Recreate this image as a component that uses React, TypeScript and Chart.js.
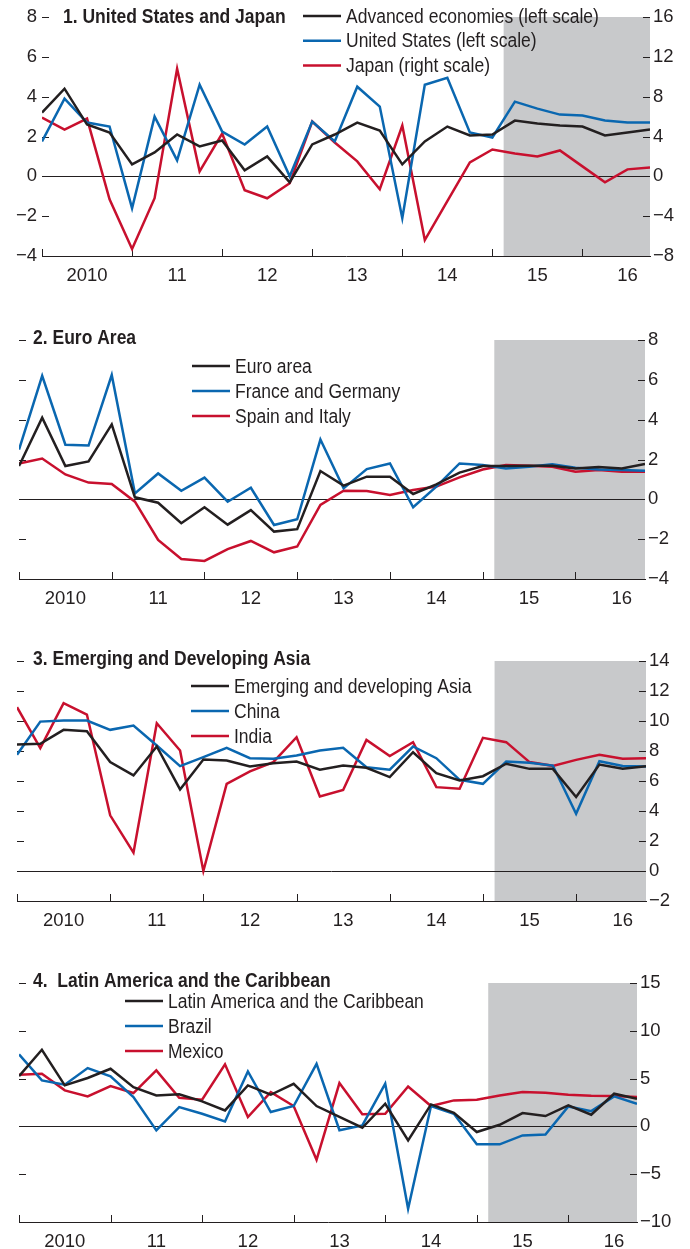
import React, { useEffect, useRef } from 'react';
import { Chart, registerables } from 'chart.js';

Chart.register(...registerables);

// ---------- data ----------
const yearLabels = ['2010', '11', '12', '13', '14', '15', '16'];
const forecastStart = 20.5; // quarter index where projections begin (shaded)

// Panel 1: United States and Japan (Japan on right scale)
const advancedEconomies = [3.2, 4.4, 2.6, 2.2, 0.6, 1.2, 2.1, 1.5, 1.8, 0.3, 1.0, -0.3, 1.6, 2.1, 2.7, 2.3, 0.6, 1.75, 2.5, 2.05, 2.1, 2.8, 2.65, 2.55, 2.5, 2.05, 2.2, 2.35];
const unitedStates = [1.75, 3.9, 2.7, 2.5, -1.6, 3.0, 0.8, 4.6, 2.25, 1.6, 2.5, 0.0, 2.75, 1.75, 4.5, 3.5, -2.1, 4.6, 4.95, 2.2, 1.95, 3.75, 3.4, 3.1, 3.05, 2.8, 2.7, 2.7];
const japan = [5.9, 4.7, 5.8, -2.3, -7.3, -2.2, 10.8, 0.5, 4.3, -1.4, -2.2, -0.7, 5.5, 3.4, 1.5, -1.3, 5.1, -6.4, -2.5, 1.4, 2.7, 2.3, 2.0, 2.6, 1.0, -0.6, 0.7, 0.9];

// Panel 2: Euro Area
const euroArea = [1.67, 4.1, 1.67, 1.9, 3.76, 0.1, -0.17, -1.2, -0.4, -1.27, -0.54, -1.62, -1.5, 1.42, 0.69, 1.14, 1.14, 0.27, 0.75, 1.34, 1.67, 1.67, 1.69, 1.69, 1.55, 1.62, 1.55, 1.77];
const franceGermany = [2.5, 6.2, 2.74, 2.7, 6.24, 0.3, 1.3, 0.43, 1.09, -0.12, 0.58, -1.29, -1.0, 3.0, 0.55, 1.52, 1.8, -0.4, 0.64, 1.8, 1.72, 1.55, 1.64, 1.76, 1.59, 1.5, 1.47, 1.44];
const spainItaly = [1.8, 2.05, 1.25, 0.84, 0.77, -0.12, -2.04, -3.0, -3.09, -2.5, -2.09, -2.66, -2.37, -0.28, 0.43, 0.42, 0.22, 0.47, 0.64, 1.1, 1.5, 1.72, 1.69, 1.64, 1.39, 1.47, 1.39, 1.39];

// Panel 3: Emerging and Developing Asia
const emergingAsia = [8.43, 8.48, 9.41, 9.32, 7.26, 6.37, 8.3, 5.44, 7.43, 7.37, 6.97, 7.19, 7.3, 6.75, 7.03, 6.88, 6.26, 7.92, 6.52, 6.04, 6.32, 7.15, 6.81, 6.81, 4.93, 7.1, 6.81, 6.99];
const china = [7.75, 9.96, 10.03, 10.03, 9.41, 9.7, 8.37, 6.99, 7.59, 8.21, 7.52, 7.48, 7.7, 8.03, 8.22, 6.92, 6.75, 8.3, 7.52, 6.08, 5.81, 7.3, 7.21, 7.03, 3.82, 7.32, 7.0, 6.97];
const india = [10.92, 8.19, 11.19, 10.43, 3.71, 1.22, 9.85, 8.03, 0.0, 5.81, 6.64, 7.26, 8.92, 4.97, 5.4, 8.74, 7.66, 8.59, 5.59, 5.48, 8.88, 8.59, 7.26, 7.01, 7.41, 7.75, 7.48, 7.52];

// Panel 4: Latin America and the Caribbean
const latinAmerica = [5.26, 8.02, 4.29, 5.06, 6.03, 4.11, 3.24, 3.35, 2.62, 1.67, 4.29, 3.31, 4.46, 2.13, 1.0, -0.14, 2.37, -1.46, 2.3, 1.43, -0.59, 0.17, 1.39, 1.08, 2.2, 1.22, 3.42, 2.89];
const brazil = [7.53, 4.81, 4.36, 6.1, 5.23, 3.07, -0.42, 2.02, 1.32, 0.52, 5.75, 1.5, 2.13, 6.55, -0.4, 0.1, 4.46, -8.61, 2.13, 1.32, -1.88, -1.88, -0.94, -0.84, 2.09, 1.6, 3.14, 2.37];
const mexico = [5.4, 5.51, 3.77, 3.14, 4.22, 3.49, 5.86, 3.0, 2.79, 6.49, 0.98, 3.59, 2.13, -3.49, 4.53, 1.26, 1.32, 4.18, 2.13, 2.72, 2.79, 3.24, 3.59, 3.52, 3.31, 3.21, 3.17, 3.07];

// ---------- styles ----------
const INK = '#231f20';
const BLUE = '#0a67b0';
const RED = '#c8102e';
const SHADE = '#c8c9cb';
const FONT = "'Liberation Sans', Arial, sans-serif";
const TEXT_SIZE = 20;
const TEXT_SQUEEZE = 0.875; // condensed look for titles and legends

const fmt = (v: number) => (v < 0 ? '\u2212' + Math.abs(v) : String(v));

type SeriesSpec = { label: string; values: number[]; color: string; axis?: string };
type AxisSpec = { min: number; max: number; step: number; labelEvery: number };
type PanelSpec = {
  top: number;
  height: number;
  chartLeft: number;
  chartRight: number;
  chartTop: number;
  chartBottom: number;
  title: string;
  titleX: number;
  titleY: number;
  legendX: number;
  legendY: number;
  legendGap: number;
  series: SeriesSpec[];
  left?: AxisSpec; // labelled left axis (panel 1)
  right: AxisSpec;
};

const isMultiple = (v: number, m: number) => Math.abs(v / m - Math.round(v / m)) < 1e-6;

function squeezedText(ctx: CanvasRenderingContext2D, text: string, x: number, y: number) {
  ctx.save();
  ctx.translate(x, y);
  ctx.scale(TEXT_SQUEEZE, 1);
  ctx.fillText(text, 0, 0);
  ctx.restore();
}

const decorPlugin = {
  id: 'decor',
  beforeDraw(chart: any, _args: any, o: any) {
    const { ctx, chartArea: a, scales } = chart;
    const x0 = scales.x.getPixelForValue(o.shadeFrom);
    ctx.save();
    ctx.fillStyle = SHADE;
    ctx.fillRect(x0, a.top, a.right - x0, a.bottom - a.top);
    ctx.restore();
  },
  beforeDatasetsDraw(chart: any, _args: any, o: any) {
    const { ctx, chartArea: a, scales } = chart;
    ctx.save();
    ctx.strokeStyle = INK;
    ctx.lineWidth = 1;
    const drawY = (scale: any, xEdge: number, dir: number, major: number, minor: number, every: number) => {
      scale.ticks.forEach((t: any) => {
        const y = Math.round(scale.getPixelForValue(t.value)) + 0.5;
        const len = isMultiple(t.value, every) ? major : minor;
        ctx.beginPath();
        ctx.moveTo(xEdge, y);
        ctx.lineTo(xEdge + dir * len, y);
        ctx.stroke();
      });
    };
    drawY(scales[o.leftScaleId], a.left, 1, 7, 3, o.leftEvery);
    drawY(scales[o.rightScaleId], a.right, -1, 7, 3, o.rightEvery);
    // year tick marks on the x axis
    o.yearStarts.forEach((q: number) => {
      const x = Math.round(scales.x.getPixelForValue(q)) + 0.5;
      ctx.beginPath();
      ctx.moveTo(x, a.bottom);
      ctx.lineTo(x, a.bottom - 7);
      ctx.stroke();
    });
    ctx.restore();
  },
  afterDraw(chart: any, _args: any, o: any) {
    const { ctx } = chart;
    ctx.save();
    ctx.fillStyle = INK;
    ctx.textBaseline = 'middle';
    ctx.textAlign = 'left';
    ctx.font = `bold ${TEXT_SIZE}px ${FONT}`;
    squeezedText(ctx, o.title, o.titleX, o.titleY);
    ctx.font = `${TEXT_SIZE}px ${FONT}`;
    chart.data.datasets.forEach((ds: any, k: number) => {
      const y = o.legendY + k * o.legendGap;
      ctx.strokeStyle = ds.borderColor;
      ctx.lineWidth = 2.5;
      ctx.beginPath();
      ctx.moveTo(o.legendX, y - 1);
      ctx.lineTo(o.legendX + 38, y - 1);
      ctx.stroke();
      squeezedText(ctx, ds.label, o.legendX + 43, y);
    });
    ctx.restore();
  },
};

const yearStarts = yearLabels.map((_, k) => k * 4);
const labelPositions = yearLabels.map((_, k) => k * 4 + 2);

function buildConfig(p: PanelSpec): any {
  const tickFont = { family: FONT, size: 18.5 };
  const zeroGrid = {
    display: true,
    drawOnChartArea: true,
    drawTicks: false,
    lineWidth: 1,
    color: (c: any) => (c.tick && c.tick.value === 0 ? INK : 'rgba(0,0,0,0)'),
  };
  const yAxis = (ax: AxisSpec, position: string, width: number, grid: any) => ({
    type: 'linear',
    position,
    min: ax.min,
    max: ax.max,
    border: { display: false },
    grid,
    ticks: {
      stepSize: ax.step,
      padding: position === 'left' ? 5 : 3,
      color: INK,
      font: tickFont,
      callback: (v: number) => (isMultiple(v, ax.labelEvery) ? fmt(v) : ''),
    },
    afterFit: (s: any) => {
      s.width = width;
    },
  });

  const scales: any = {
    x: {
      type: 'linear',
      min: 0,
      max: 27,
      offset: false,
      grid: { display: false, drawTicks: false },
      border: { display: true, color: INK, width: 1 },
      afterBuildTicks: (s: any) => {
        s.ticks = labelPositions.map((v) => ({ value: v }));
      },
      ticks: {
        autoSkip: false,
        maxRotation: 0,
        padding: 9,
        color: INK,
        font: tickFont,
        callback: (v: number) => yearLabels[(v - 2) / 4] ?? '',
      },
      afterFit: (s: any) => {
        s.height = p.height - p.chartBottom;
      },
    },
  };

  let rightScaleId = 'y';
  let leftEvery = p.right.labelEvery;
  if (p.left) {
    scales.y = yAxis(p.left, 'left', p.chartLeft, zeroGrid);
    scales.y1 = yAxis(p.right, 'right', 690 - p.chartRight, { display: false, drawTicks: false });
    rightScaleId = 'y1';
    leftEvery = p.left.labelEvery;
  } else {
    scales.y = yAxis(p.right, 'right', 690 - p.chartRight, zeroGrid);
  }

  return {
    type: 'line',
    data: {
      datasets: p.series.map((s) => ({
        label: s.label,
        data: s.values.map((v, i) => ({ x: i, y: v })),
        borderColor: s.color,
        backgroundColor: s.color,
        borderWidth: 2.5,
        pointRadius: 0,
        tension: 0,
        fill: false,
        yAxisID: s.axis ?? 'y',
      })),
    },
    options: {
      responsive: false,
      animation: false,
      layout: {
        padding: { top: p.chartTop, left: p.left ? 0 : p.chartLeft, right: 0, bottom: 0 },
      },
      plugins: {
        legend: { display: false },
        tooltip: { enabled: false },
        decor: {
          shadeFrom: forecastStart,
          leftScaleId: 'y',
          rightScaleId,
          leftEvery,
          rightEvery: p.right.labelEvery,
          yearStarts,
          title: p.title,
          titleX: p.titleX,
          titleY: p.titleY,
          legendX: p.legendX,
          legendY: p.legendY,
          legendGap: p.legendGap,
        },
      },
      scales,
    },
    plugins: [decorPlugin],
  };
}

const panels: PanelSpec[] = [
  {
    top: 0, height: 292, chartLeft: 42, chartRight: 650, chartTop: 17, chartBottom: 256,
    title: '1. United States and Japan', titleX: 63, titleY: 17,
    legendX: 303, legendY: 17, legendGap: 24.7,
    left: { min: -4, max: 8, step: 1, labelEvery: 2 },
    right: { min: -8, max: 16, step: 2, labelEvery: 4 },
    series: [
      { label: 'Advanced economies (left scale)', values: advancedEconomies, color: INK },
      { label: 'United States (left scale)', values: unitedStates, color: BLUE },
      { label: 'Japan (right scale)', values: japan, color: RED, axis: 'y1' },
    ],
  },
  {
    top: 300, height: 316, chartLeft: 19, chartRight: 645, chartTop: 40, chartBottom: 279,
    title: '2. Euro Area', titleX: 33, titleY: 38,
    legendX: 192, legendY: 67, legendGap: 25,
    right: { min: -4, max: 8, step: 1, labelEvery: 2 },
    series: [
      { label: 'Euro area', values: euroArea, color: INK },
      { label: 'France and Germany', values: franceGermany, color: BLUE },
      { label: 'Spain and Italy', values: spainItaly, color: RED },
    ],
  },
  {
    top: 625, height: 311, chartLeft: 17, chartRight: 646, chartTop: 36, chartBottom: 276,
    title: '3. Emerging and Developing Asia', titleX: 33, titleY: 34,
    legendX: 191, legendY: 62, legendGap: 25,
    right: { min: -2, max: 14, step: 1, labelEvery: 2 },
    series: [
      { label: 'Emerging and developing Asia', values: emergingAsia, color: INK },
      { label: 'China', values: china, color: BLUE },
      { label: 'India', values: india, color: RED },
    ],
  },
  {
    top: 945, height: 304, chartLeft: 19, chartRight: 637, chartTop: 38, chartBottom: 277,
    title: '4.  Latin America and the Caribbean', titleX: 33, titleY: 36,
    legendX: 125, legendY: 57, legendGap: 25,
    right: { min: -10, max: 15, step: 2.5, labelEvery: 5 },
    series: [
      { label: 'Latin America and the Caribbean', values: latinAmerica, color: INK },
      { label: 'Brazil', values: brazil, color: BLUE },
      { label: 'Mexico', values: mexico, color: RED },
    ],
  },
];

function Panel({ spec }: { spec: PanelSpec }) {
  const ref = useRef<HTMLCanvasElement>(null);
  useEffect(() => {
    if (!ref.current) return;
    const chart = new Chart(ref.current, buildConfig(spec));
    return () => chart.destroy();
  }, [spec]);
  return (
    <canvas
      ref={ref}
      width={690}
      height={spec.height}
      style={{ position: 'absolute', left: 0, top: spec.top, width: 690, height: spec.height }}
    />
  );
}

export default function App() {
  return (
    <div style={{ position: 'absolute', left: 0, top: 0, width: 690, height: 1249, background: '#fff', overflow: 'hidden' }}>
      {panels.map((p, i) => (
        <Panel key={i} spec={p} />
      ))}
    </div>
  );
}
